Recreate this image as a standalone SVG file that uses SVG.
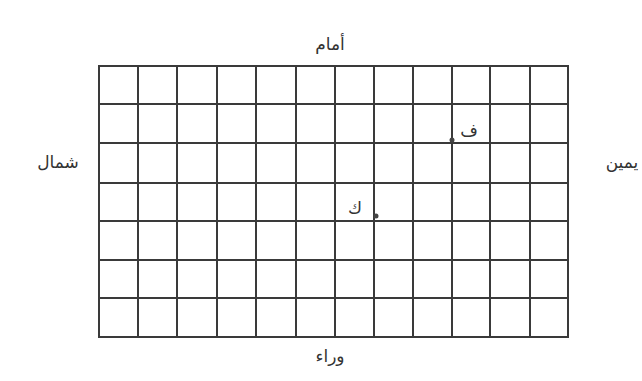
<svg xmlns="http://www.w3.org/2000/svg" width="642" height="381" viewBox="0 0 642 381">
<style>
.g{stroke:#3a3a3a;stroke-width:2;fill:none}
.t{font-family:"DejaVu Sans","Noto Sans",sans-serif;font-size:17px;fill:#333;text-anchor:middle}
.d{fill:#444}
</style>
<rect width="642" height="381" fill="#fff"/>
<g id="grid" class="g">
<rect x="99" y="66" width="469" height="271"/>
<path d="M138 66V337M177 66V337M217 66V337M256 66V337M296 66V337M335 66V337M374 66V337M413 66V337M452 66V337M490 66V337M530 66V337"/>
<path d="M99 104H568M99 143H568M99 183H568M99 221H568M99 260H568M99 298H568"/>
</g>
<g id="labels">
<text class="t" x="330" y="50">أمام</text>
<text class="t" x="330" y="362">وراء</text>
<text class="t" x="58" y="168">شمال</text>
<text class="t" x="622" y="168">يمين</text>
</g>
<g id="point-f">
<circle class="d" cx="452" cy="140" r="2.5"/>
<text class="t" x="469" y="136">ف</text>
</g>
<g id="point-k">
<circle class="d" cx="376" cy="216" r="2.5"/>
<text class="t" x="355" y="214">ك</text>
</g>
</svg>
